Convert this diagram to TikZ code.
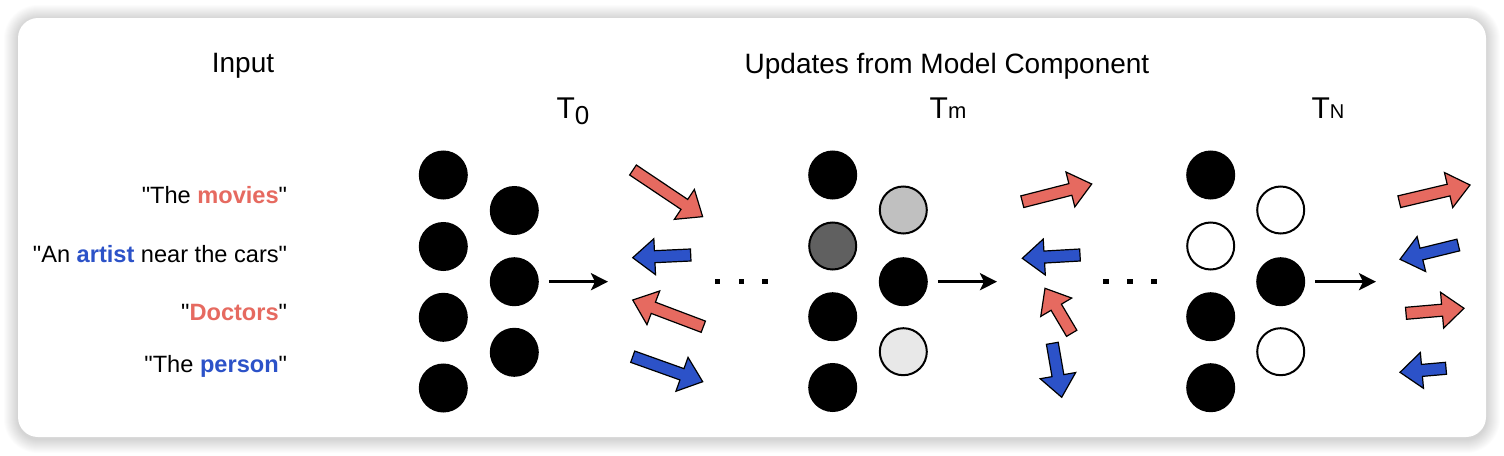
\documentclass[tikz,border=0pt]{standalone}
\usepackage{fontspec}
\setmainfont{Liberation Sans}
\usepackage{xcolor}
\usetikzlibrary{arrows.meta}

\definecolor{updred}{RGB}{230,106,96}
\definecolor{updblue}{RGB}{44,82,200}
\definecolor{darkunit}{RGB}{96,96,96}
\definecolor{paleunit}{RGB}{192,192,192}
\definecolor{faintunit}{RGB}{232,232,232}

\newcommand{\qt}{\textquotedbl}

\tikzset{
  unit/.style={circle, draw=black, line width=1pt, minimum size=23.5pt, inner sep=0pt, fill=#1},
  unit/.default=black,
  update/.style={draw=black, line width=0.6pt, line join=miter},
  flow/.style={line width=1.5pt, -{Stealth[length=8.5pt,width=8.5pt,inset=2pt]}, shorten <=5pt},
  dotbox/.style={rectangle, fill=black, minimum size=2.6pt, inner sep=0pt},
  title/.style={font=\fontsize{14}{16}\selectfont, anchor=base},
  tlabel/.style={font=\fontsize{15}{17}\selectfont, anchor=base},
  sentence/.style={font=\fontsize{11.8}{14}\selectfont, anchor=base east, inner sep=0pt}
}

\newcommand{\updarrow}[5]{%
  \pgfmathsetmacro{\updang}{atan2(#5-#3,#4-#2)}%
  \pgfmathsetmacro{\updlen}{veclen(#4-#2,#5-#3)}%
  \begin{scope}[shift={(#2,#3)}, rotate=-\updang]
    \draw[update, fill=#1] (0,-6) -- (\updlen-22,-6) -- (\updlen-22,-18) -- (\updlen,0)
      -- (\updlen-22,18) -- (\updlen-22,6) -- (0,6) -- cycle;
  \end{scope}}

\begin{document}
\begin{tikzpicture}[x=0.5pt, y=-0.5pt]
    \useasboundingbox (0,0) rectangle (1504,455);

    \foreach \s [evaluate=\s as \r using 10+0.5*\s] in {1,...,14}
      \fill[black, opacity=0.011, rounded corners=\r pt] (18-\s,19-\s) rectangle (1486+\s,439+\s);
    \fill[white, rounded corners=10pt] (18,18) rectangle (1486,437);

    \node[title] (input) at (243,72.7) {Input};
    \node[title] (updates) at (947,73) {Updates from Model Component};

    \node[tlabel] (t0) at (573,118) {T\raisebox{-3pt}{\fontsize{13}{13}\selectfont 0}};
    \node[tlabel] (tm) at (948,118) {T{\fontsize{11}{11}\selectfont m}};
    \node[tlabel] (tn) at (1328,118) {T{\fontsize{10}{11}\selectfont N}};

    \node[sentence] (s1) at (287.5,203) {\qt The \textbf{\color{updred}movies}\qt};
    \node[sentence] (s2) at (287.5,262) {\qt An \textbf{\color{updblue}artist} near the cars\qt};
    \node[sentence] (s3) at (287.5,320.5) {\qt\textbf{\color{updred}Doctors}\qt};
    \node[sentence] (s4) at (287.5,372) {\qt The \textbf{\color{updblue}person}\qt};

    \node[unit] (t0a1) at (443.3,175) {};
    \node[unit] (t0a2) at (443.3,246.5) {};
    \node[unit] (t0a3) at (443.3,317.3) {};
    \node[unit] (t0a4) at (443.3,388) {};
    \node[unit] (t0b1) at (514.3,210.5) {};
    \node[unit] (t0b2) at (514.3,281.7) {};
    \node[unit] (t0b3) at (514.3,352.3) {};

    \node[unit] (tma1) at (832.7,175) {};
    \node[unit=darkunit] (tma2) at (832.7,246) {};
    \node[unit] (tma3) at (832.7,316.7) {};
    \node[unit] (tma4) at (832.7,387.5) {};
    \node[unit=paleunit] (tmb1) at (903.3,210) {};
    \node[unit] (tmb2) at (903.3,281.7) {};
    \node[unit=faintunit] (tmb3) at (903.3,351.7) {};

    \node[unit] (tna1) at (1210.7,175) {};
    \node[unit=white] (tna2) at (1210.7,246) {};
    \node[unit] (tna3) at (1210.7,316.7) {};
    \node[unit] (tna4) at (1210.7,387.7) {};
    \node[unit=white] (tnb1) at (1280.7,210) {};
    \node[unit] (tnb2) at (1280.7,281.7) {};
    \node[unit=white] (tnb3) at (1280.7,351.7) {};

    \coordinate (t0out) at (608,281.7);
    \coordinate (tmout) at (997,281.7);
    \coordinate (tnout) at (1376,281.7);
    \draw[flow] (t0b2) -- (t0out);
    \draw[flow] (tmb2) -- (tmout);
    \draw[flow] (tnb2) -- (tnout);

    \node[dotbox] (d1) at (717.7,281.5) {};
    \node[dotbox] (d2) at (741.3,281.5) {};
    \node[dotbox] (d3) at (765,281.5) {};
    \node[dotbox] (d4) at (1106,281.7) {};
    \node[dotbox] (d5) at (1130,281.7) {};
    \node[dotbox] (d6) at (1154,281.7) {};

    \updarrow{updred}{633}{170}{702.7}{216.7}
    \updarrow{updblue}{690.7}{255}{632.7}{257.7}
    \updarrow{updred}{703.3}{326.7}{632.7}{300}
    \updarrow{updblue}{632.7}{356.7}{702.7}{381.7}

    \updarrow{updred}{1022.3}{201.7}{1091.7}{184}
    \updarrow{updblue}{1080}{255}{1022.3}{258.3}
    \updarrow{updred}{1071.7}{333.3}{1045}{288.3}
    \updarrow{updblue}{1052.3}{343.3}{1061.7}{397.3}

    \updarrow{updred}{1399.3}{201.7}{1470}{185}
    \updarrow{updblue}{1458.3}{245}{1400}{259.3}
    \updarrow{updred}{1406}{313.3}{1464}{308.3}
    \updarrow{updblue}{1446}{368.3}{1400}{372.3}
\end{tikzpicture}
\end{document}
